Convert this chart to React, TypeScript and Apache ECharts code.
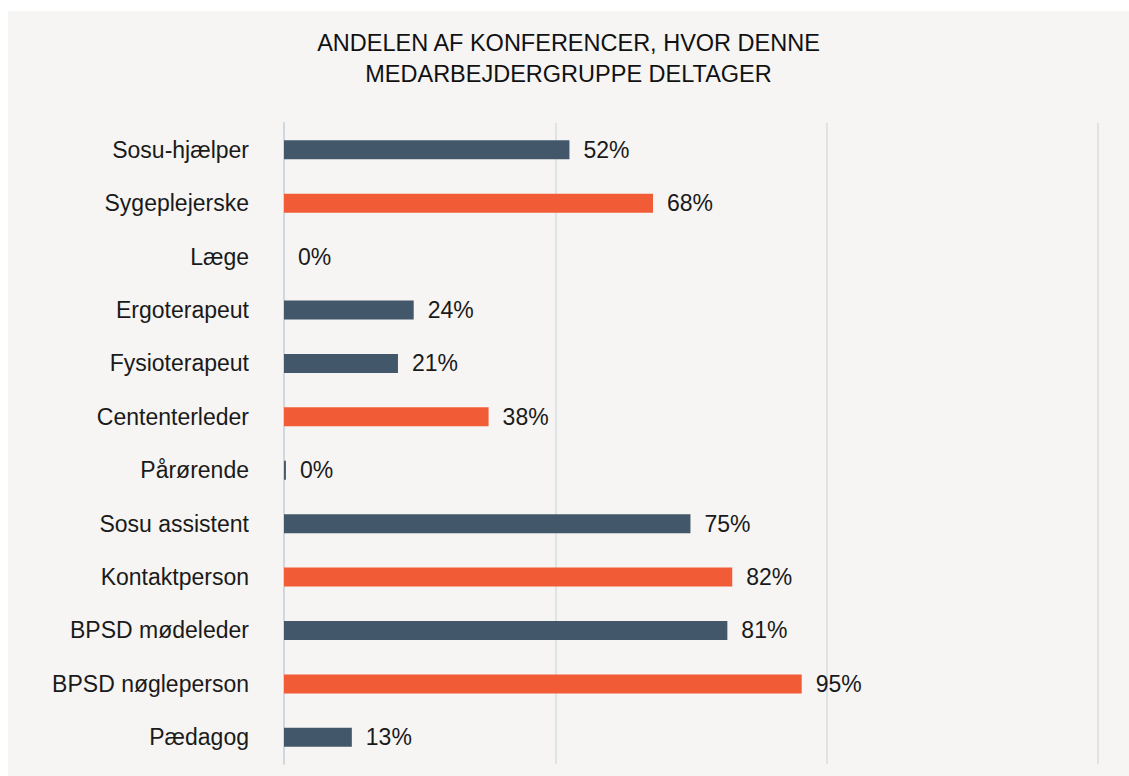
import React, { useEffect, useRef } from "react";
import * as echarts from "echarts";

const categories = [
  "Sosu-hjælper",
  "Sygeplejerske",
  "Læge",
  "Ergoterapeut",
  "Fysioterapeut",
  "Cententerleder",
  "Pårørende",
  "Sosu assistent",
  "Kontaktperson",
  "BPSD mødeleder",
  "BPSD nøgleperson",
  "Pædagog",
];
const values = [52.6, 68, 0, 23.9, 21, 37.7, 0.35, 74.9, 82.6, 81.7, 95.4, 12.5];
const valueLabels = ["52%", "68%", "0%", "24%", "21%", "38%", "0%", "75%", "82%", "81%", "95%", "13%"];
const highlighted = [false, true, false, false, false, true, false, false, true, false, true, false];
const titleLines = ["ANDELEN AF KONFERENCER, HVOR DENNE", "MEDARBEJDERGRUPPE DELTAGER"];

const DARK = "#42576a";
const ORANGE = "#f15c36";
const FONT = "'Liberation Sans', Arial, Helvetica, sans-serif";

export default function App() {
  const ref = useRef<HTMLDivElement>(null);
  useEffect(() => {
    if (!ref.current) return;
    const chart = echarts.init(ref.current, undefined, { renderer: "svg" });
    chart.setOption({
      animation: false,
      backgroundColor: "#f6f5f3",
      title: {
        text: titleLines.join("\n"),
        left: "center",
        top: 11,
        textStyle: {
          fontFamily: FONT,
          fontSize: 23.5,
          fontWeight: "normal",
          color: "#111",
          lineHeight: 31,
        },
      },
      grid: { left: 276, right: 31, top: 112, bottom: 12, containLabel: false },
      xAxis: {
        type: "value",
        min: 0,
        max: 150,
        interval: 50,
        axisLabel: { show: false },
        axisLine: { show: false },
        axisTick: { show: false },
        splitLine: { show: true, lineStyle: { color: "#d6dce1", width: 1.5 } },
      },
      yAxis: {
        type: "category",
        data: categories,
        inverse: true,
        axisLine: { show: true, lineStyle: { color: "#d0d7dd", width: 2 } },
        axisTick: { show: false },
        axisLabel: {
          margin: 35,
          fontFamily: FONT,
          fontSize: 23,
          color: "#1a1a1a",
        },
      },
      series: [
        {
          type: "bar",
          barWidth: 19,
          data: values.map((v, i) => ({
            value: v,
            itemStyle: { color: highlighted[i] ? ORANGE : DARK },
          })),
          label: {
            show: true,
            position: "right",
            distance: 14,
            fontFamily: FONT,
            fontSize: 23,
            color: "#1a1a1a",
            formatter: (p: any) => valueLabels[p.dataIndex],
          },
        },
      ],
    });
    return () => chart.dispose();
  }, []);
  return (
    <div
      ref={ref}
      style={{ position: "absolute", left: 8, top: 11, width: 1121, height: 765 }}
    />
  );
}
